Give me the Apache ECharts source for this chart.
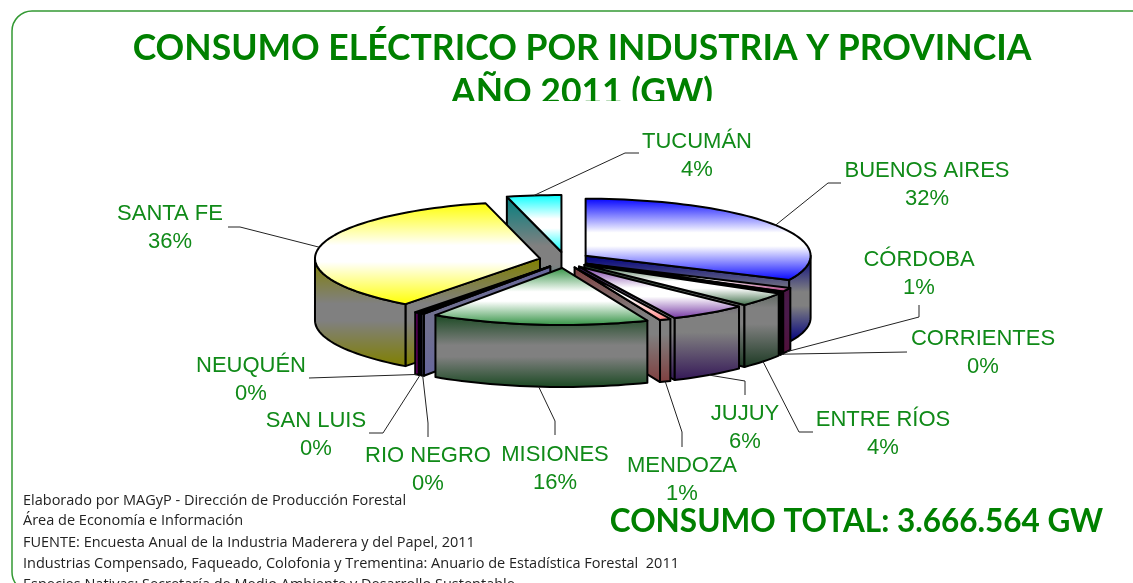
<!DOCTYPE html>
<html>
<head>
<meta charset="utf-8">
<style>
  html, body { margin: 0; padding: 0; background: #fff; overflow: hidden; }
  #chart { width: 1133px; height: 583px; }
</style>
<script src="https://cdn.jsdelivr.net/npm/echarts@6/dist/echarts.min.js"></script>
</head>
<body>
<div id="chart"></div>
<script>
// provinces, clockwise from 12 o'clock
const provinces = ['BUENOS AIRES', 'CÓRDOBA', 'CORRIENTES', 'ENTRE RÍOS', 'JUJUY', 'MENDOZA',
  'MISIONES', 'RIO NEGRO', 'SAN LUIS', 'NEUQUÉN', 'SANTA FE', 'TUCUMÁN']
// share of consumption in %
const shares = [32.0, 1.1, 0.3, 4.0, 5.6, 0.8, 15.7, 0.2, 0.2, 0.3, 35.9, 3.9]

const topColors = ['#0000ff', '#a0206a', '#202020', '#3a6a44', '#7030a0', '#ff8080',
  '#2f9040', '#9090d0', '#000090', '#800080', '#ffff00', '#00ffff']
const wallColors = ['#000080', '#50103a', '#101010', '#1d3a24', '#351858', '#804040',
  '#1c4a24', '#66669c', '#000060', '#700070', '#808000', '#008080']
const wallMids = ['#808080', '#4a1a4a', '#000000', '#808080', '#808080', '#808080',
  '#808080', '#707090', '#000050', '#600060', '#808080', '#808080']

// label centre and elbow points of the leader lines, same order as provinces
const labelCentres = [[927, 184.5], [919, 273.5], [983, 352.5], [883, 433.5], [745, 427.5], [682, 479.5],
  [555, 468.5], [428, 469.5], [316, 434.5], [251, 379.5], [170, 227.5], [697, 155.5]]
const leaderElbows = [
  [[828, 183], [841, 183]],
  [[919, 317], [919, 305]],
  [[907, 352]],
  [[799, 432], [813, 432]],
  [[745, 381], [745, 395]],
  [[682, 432], [682, 447]],
  [[555, 421], [555, 435]],
  [[428, 423], [428, 437]],
  [[383, 433], [369, 433]],
  [[309, 378]],
  [[240, 227], [228, 227]],
  [[625, 153], [639, 153]]
]

const footerLines = [
  'Elaborado por MAGyP - Dirección de Producción Forestal',
  'Área de Economía e Información',
  'FUENTE: Encuesta Anual de la Industria Maderera y del Papel, 2011',
  'Industrias Compensado, Faqueado, Colofonia y Trementina: Anuario de Estadística Forestal  2011',
  'Especies Nativas: Secretaría de Medio Ambiente y Desarrollo Sustentable'
]
const footerY = [501, 521, 543, 564, 585]

const GREEN = '#008000'
const LABEL_GREEN = '#108a18'
const cx = 564.5, cy = 260    // pie centre
const rx = 225, ry = 57       // tilted radius
const depth = 62
const explodeX = 25, explodeY = 8

const total = shares.reduce((a, b) => a + b, 0)

// angles in degrees, clockwise from top
let acc = 0
const slices = shares.map((v, i) => {
  const start = acc / total * 360
  acc += v
  const end = acc / total * 360
  const mid = (start + end) / 2
  const rad = mid * Math.PI / 180
  return {
    i, start, end, mid,
    ox: cx + explodeX * Math.sin(rad),
    oy: cy - explodeY * Math.cos(rad)
  }
})

const paintOrder = slices.slice()
  .sort((a, b) => Math.abs(b.mid - 180) - Math.abs(a.mid - 180))
  .map((s) => s.i)

function rim(s, deg, dy) {
  const r = deg * Math.PI / 180
  return [s.ox + rx * Math.sin(r), s.oy - ry * Math.cos(r) + (dy || 0)]
}

function arc(s, from, to, dy) {
  const pts = []
  const n = Math.max(2, Math.ceil(Math.abs(to - from) / 2))
  for (let k = 0; k <= n; k++) pts.push(rim(s, from + (to - from) * k / n, dy))
  return pts
}

function vgrad(c0, c1, global, y0, y1) {
  const stops = [
    { offset: 0, color: c0 },
    { offset: 0.42, color: c1 },
    { offset: 0.58, color: c1 },
    { offset: 1, color: c0 }
  ]
  return global
    ? new echarts.graphic.LinearGradient(0, y0, 0, y1, stops, true)
    : new echarts.graphic.LinearGradient(0, 0, 0, 1, stops)
}

function renderSlice(params, api) {
  const s = slices[api.value(0)]
  const walls = []

  // radial wall on the start edge faces us on the left half
  if (s.start >= 180) {
    const p = rim(s, s.start)
    walls.push([[s.ox, s.oy], p, [p[0], p[1] + depth], [s.ox, s.oy + depth]])
  }
  // radial wall on the end edge faces us on the right half
  if (s.end <= 180) {
    const p = rim(s, s.end)
    walls.push([[s.ox, s.oy], p, [p[0], p[1] + depth], [s.ox, s.oy + depth]])
  }
  // outer wall, front half of the rim only
  const from = Math.max(s.start, 90), to = Math.min(s.end, 270)
  if (to > from) {
    walls.push(arc(s, from, to, 0).concat(arc(s, to, from, depth)))
  }

  const ys = walls.flat().map((p) => p[1])
  const y0 = Math.min(...ys), y1 = Math.max(...ys)
  const wallFill = vgrad(wallColors[s.i], wallMids[s.i], true, y0, y1)

  const children = walls.map((points) => ({
    type: 'polygon',
    shape: { points },
    style: { fill: wallFill, stroke: '#000', lineWidth: 2, lineJoin: 'round' }
  }))

  children.push({
    type: 'polygon',
    shape: { points: [[s.ox, s.oy]].concat(arc(s, s.start, s.end, 0)) },
    style: { fill: vgrad(topColors[s.i], '#ffffff'), stroke: '#000', lineWidth: 2, lineJoin: 'round' }
  })

  // leader line starts on the outside of the slice
  const front = s.mid > 90 && s.mid < 270
  const anchor = rim(s, s.mid, front ? depth : 0)
  children.push({
    type: 'polyline',
    z2: 10,
    shape: { points: [anchor].concat(leaderElbows[s.i]) },
    style: { fill: null, stroke: '#222', lineWidth: 1 }
  })

  const c = labelCentres[s.i]
  children.push({
    type: 'text',
    z2: 11,
    x: c[0],
    y: c[1],
    style: {
      text: provinces[s.i] + '\n' + Math.round(shares[s.i]) + '%',
      fill: LABEL_GREEN,
      font: '22px "Liberation Sans", Arial, sans-serif',
      lineHeight: 28,
      align: 'center',
      verticalAlign: 'middle'
    }
  })

  return { type: 'group', children }
}

const chart = echarts.init(document.getElementById('chart'))

chart.setOption({
  animation: false,
  title: [
    {
      text: 'CONSUMO ELÉCTRICO POR INDUSTRIA Y PROVINCIA\nAÑO 2011 (GW)',
      left: 577,
      top: 22,
      textAlign: 'center',
      textStyle: {
        color: GREEN,
        fontFamily: 'Lato, sans-serif',
        fontWeight: 'bold',
        fontSize: 35.5,
        lineHeight: 44
      }
    },
    {
      text: 'CONSUMO TOTAL: 3.666.564 GW',
      left: 851.5,
      top: 501,
      textAlign: 'center',
      textStyle: {
        color: GREEN,
        fontFamily: 'Lato, sans-serif',
        fontWeight: 'bold',
        fontSize: 31.5
      }
    }
  ],
  graphic: [
    {
      type: 'rect',
      silent: true,
      z: 1,
      shape: { x: 12, y: 11, width: 1300, height: 581, r: 20 },
      style: { fill: 'none', stroke: '#339933', lineWidth: 1.5 }
    },
    // the second title line is cut off in the original
    {
      type: 'rect',
      silent: true,
      z: 50,
      shape: { x: 420, y: 101, width: 330, height: 24 },
      style: { fill: '#fff' }
    }
  ].concat(footerLines.map((text, k) => ({
    type: 'text',
    silent: true,
    z: 5,
    x: 23,
    y: footerY[k],
    style: {
      text,
      fill: '#222',
      font: '14.5px "Open Sans", sans-serif',
      align: 'left',
      verticalAlign: 'middle'
    }
  }))),
  series: [
    {
      type: 'custom',
      coordinateSystem: 'none',
      clip: false,
      silent: true,
      renderItem: renderSlice,
      data: paintOrder.map((i) => [i, shares[i]])
    }
  ]
})
</script>
</body>
</html>
